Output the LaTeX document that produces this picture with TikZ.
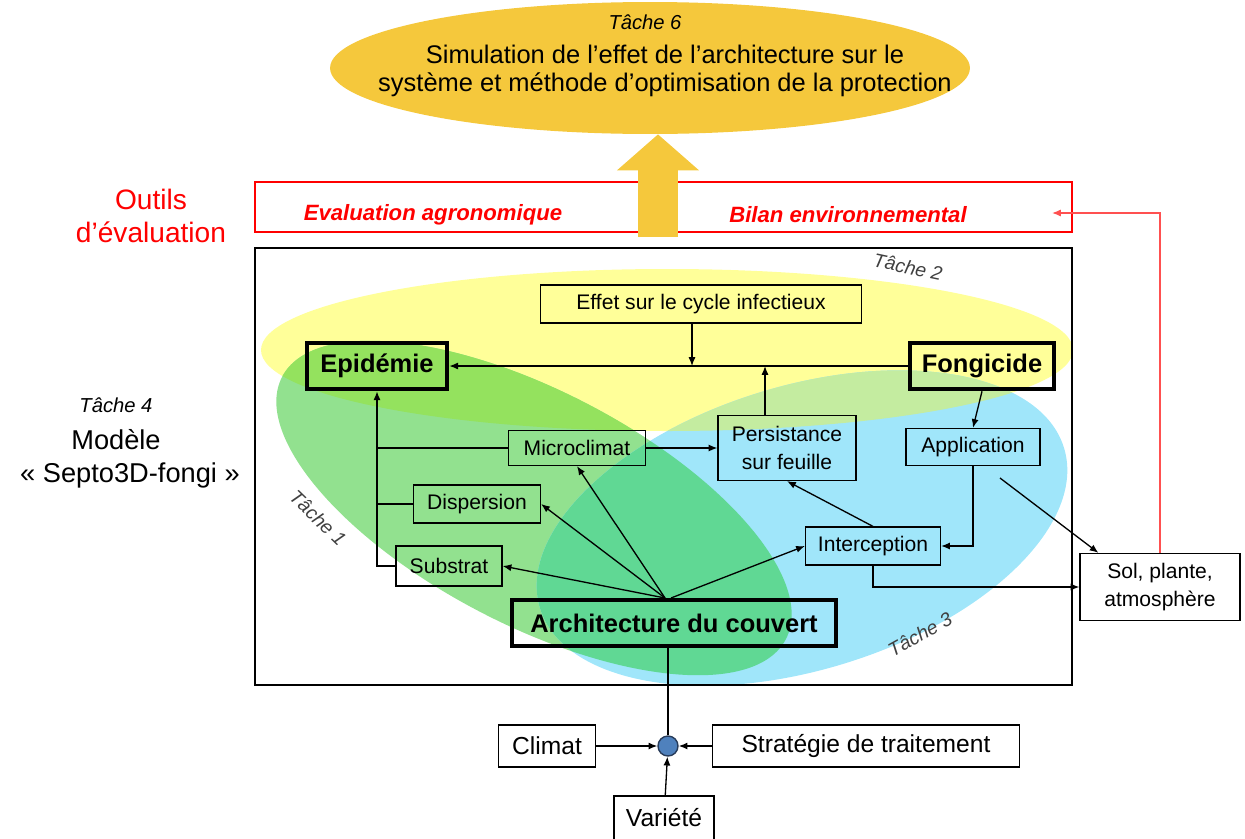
\documentclass[tikz,border=0pt]{standalone}
\usepackage{fontspec}
\setmainfont{Liberation Sans}
\usetikzlibrary{positioning,calc,shapes.geometric,arrows.meta}

\definecolor{gold}{RGB}{245,200,60}
\definecolor{tyel}{RGB}{255,255,153}
\definecolor{tgrn}{RGB}{146,225,143}
\definecolor{tblu}{RGB}{160,230,250}
\definecolor{tyg}{RGB}{148,226,94}
\definecolor{tyb}{RGB}{196,236,160}
\definecolor{tgb}{RGB}{96,216,148}
\definecolor{tygb}{RGB}{110,216,110}
\definecolor{dotblue}{RGB}{79,129,189}
\definecolor{dotedge}{RGB}{40,60,90}
\definecolor{redline}{RGB}{255,80,80}

\begin{document}
\begin{tikzpicture}[x=0.02cm, y=-0.02cm, font=\fontsize{12}{15.5}\selectfont,
box/.style={draw, line width=0.7pt, inner sep=1pt, align=center},
bigbox/.style={draw, line width=2.6pt, inner sep=1pt, font=\fontsize{14.5}{16}\selectfont\bfseries},
inbox/.style={draw, line width=0.7pt, fill=white, inner sep=1pt, font=\fontsize{14}{16}\selectfont},
tache/.style={font=\fontsize{11}{13}\selectfont\itshape, text=black!75},
redtxt/.style={text=red, font=\fontsize{12.6}{14}\selectfont\bfseries\itshape},
arr/.style={-{Latex[length=5pt,width=4pt]}, line width=0.75pt}]
\useasboundingbox (0,0) rectangle (1245,839);

% task regions
\coordinate (cY) at (667,350);
\coordinate (cG) at (534,508);
\coordinate (cB) at (802,528);
\fill[tyel] (cY) ellipse (406 and 81);
\fill[tgrn, shift={(cG)}, rotate=-27.5] (0,0) ellipse (284 and 117);
\fill[tblu, shift={(cB)}, rotate=17] (0,0) ellipse (274 and 142);
\begin{scope}
\clip[shift={(cG)}, rotate=-27.5] (0,0) ellipse (284 and 117);
\fill[tyg] (cY) ellipse (406 and 81);
\fill[tgb, shift={(cB)}, rotate=17] (0,0) ellipse (274 and 142);
\end{scope}
\begin{scope}
\clip[shift={(cB)}, rotate=17] (0,0) ellipse (274 and 142);
\fill[tyb] (cY) ellipse (406 and 81);
\clip[shift={(cG)}, rotate=-27.5] (0,0) ellipse (284 and 117);
\fill[tygb] (cY) ellipse (406 and 81);
\end{scope}
\draw[line width=0.7pt] (255,248) rectangle (1072,685);

\node[tache, rotate=-12] (t2) at (908,267) {Tâche 2};
\node[tache, rotate=-44] (t1) at (318,518) {Tâche 1};
\node[tache, rotate=29] (t3) at (920,634) {Tâche 3};

% top
\node[ellipse, fill=gold, inner sep=0, minimum width=12.8cm, minimum height=2.64cm] (simul) at (650,68) {};
\node[font=\fontsize{11.5}{13}\selectfont\itshape] (t6) at (645,22) {Tâche 6};
\node[align=center, font=\fontsize{14.5}{16}\selectfont] (simtxt) at (665,71)
  {Simulation de l’effet de l’architecture sur le\\système et méthode d’optimisation de la protection};
\node[draw=red, line width=0.8pt, minimum width=16.34cm, minimum height=1cm] (outil) at (663.5,207) {};
\node[redtxt] (agro) at (433,215) {Evaluation agronomique};
\node[redtxt] (envi) at (848,215) {Bilan environnemental};
\coordinate (up) at (658,237);
\draw[gold, line width=0.8cm, -{Triangle[length=0.72cm, width=1.6cm]}] (up) -- (up |- simul.south);

\node[text=red, align=center, font=\fontsize{16}{18.7}\selectfont] (outtxt) at (151,216) {Outils\\d’évaluation};
\node[tache, text=black, font=\fontsize{11.5}{13}\selectfont\itshape] (t4) at (116,405) {Tâche 4};
\node[font=\fontsize{15.5}{18}\selectfont] (modele) at (116,440) {Modèle};
\node[font=\fontsize{15.5}{18}\selectfont] (septo) at (130,475) {« Septo3D-fongi »};

% model
\node[box, minimum width=6.42cm, minimum height=0.76cm] (effet) at (701,304) {Effet sur le cycle infectieux};
\node[bigbox, minimum width=2.8cm, minimum height=0.92cm] (epid) at (377,366) {Epidémie};
\node[bigbox, minimum width=2.88cm, minimum height=0.92cm] (fong) at (982,366) {Fongicide};
\node[box, minimum width=2.74cm, minimum height=0.7cm] (micro) at (577,448) {Microclimat};
\node[box, minimum width=2.76cm, minimum height=1.3cm] (pers) at (787,448) {Persistance\\sur feuille};
\node[box, minimum width=2.68cm, minimum height=0.74cm] (appl) at (973,447) {Application};
\node[box, minimum width=2.54cm, minimum height=0.76cm] (disp) at (477,504) {Dispersion};
\node[box, minimum width=2.12cm, minimum height=0.8cm] (subs) at (449,566) {Substrat};
\node[box, minimum width=2.7cm, minimum height=0.76cm] (interc) at (873,546) {Interception};
\node[bigbox, minimum width=6.48cm, minimum height=0.92cm] (archi) at (674,623) {Architecture du couvert};
\node[box, fill=white, minimum width=3.2cm, minimum height=1.34cm] (sol) at (1160,587) {Sol, plante,\\atmosphère};

% inputs
\node[circle, draw=dotedge, fill=dotblue, line width=0.8pt, minimum size=0.4cm, inner sep=0] (dot) at (668,746) {};
\node[inbox, minimum width=1.94cm, minimum height=0.84cm] (climat) at (547,746) {Climat};
\node[inbox, minimum width=6.14cm, minimum height=0.84cm] (strat) at (866,746) {Stratégie de traitement};
\node[inbox, minimum width=2cm, minimum height=0.88cm] (variete) at (664,818) {Variété};

% links
\coordinate (j1) at (692,366);
\coordinate (j2) at (765,366);
\coordinate (a0) at (665,598);
\coordinate (a1) at (671,598);
\coordinate (s1) at (1000,478);
\coordinate (rend) at (1052,213);
\draw[arr] (fong.west) -- (epid.east);
\draw[arr] (effet.south -| j1) -- (j1);
\draw[arr] (pers.north -| j2) -- (j2);
\draw[arr] (subs.west) -| (epid.south);
\draw[line width=0.75pt] (disp.west) -- (disp.west -| epid.south);
\draw[line width=0.75pt] (micro.west) -- (micro.west -| epid.south);
\draw[arr] (micro.east) -- (pers.west);
\draw[arr] (a0) -- (micro.south);
\draw[arr] (a0) -- (disp.east);
\draw[arr] (a0) -- (subs.east);
\draw[arr] (a1) -- (interc.west);
\draw[arr] (interc.north) -- (pers.south);
\draw[arr] (fong.south) -- (appl.north);
\draw[arr] (appl.south) |- (interc.east);
\draw[arr] (s1) -- (sol.151);
\draw[arr] (interc.south) |- (sol.west);
\draw[arr, redline] (sol.north) |- (rend);
\draw[line width=0.75pt] (dot) -- (dot |- archi.south);
\draw[arr] (climat) -- (dot);
\draw[arr] (strat) -- (dot);
\draw[arr] (variete) -- (dot);
\end{tikzpicture}
\end{document}
